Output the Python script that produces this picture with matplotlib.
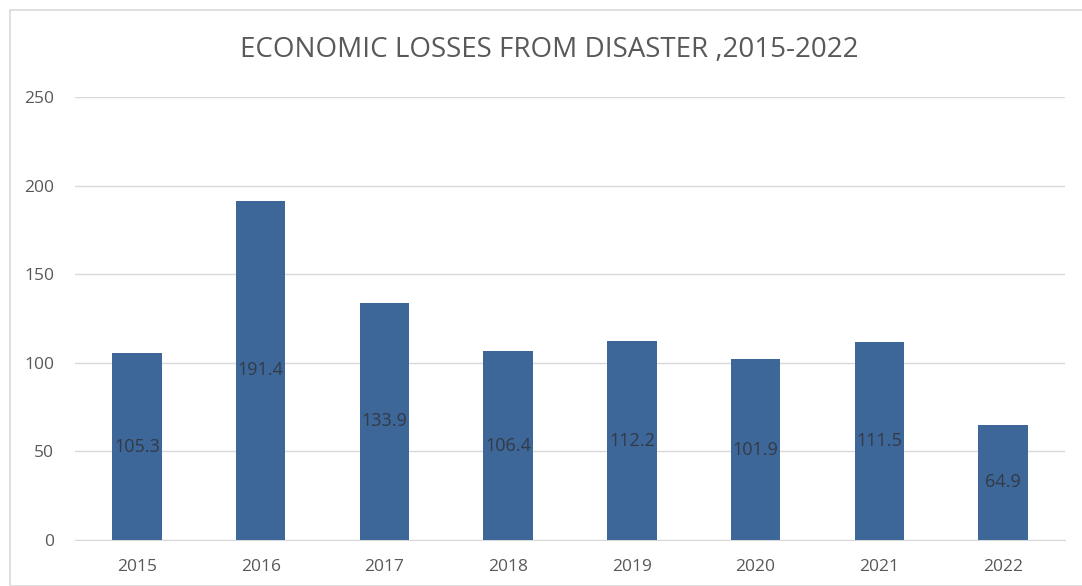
import matplotlib
matplotlib.use("Agg")
import matplotlib.pyplot as plt
from matplotlib.patches import Rectangle

years = ["2015", "2016", "2017", "2018", "2019", "2020", "2021", "2022"]
losses = [105.3, 191.4, 133.9, 106.4, 112.2, 101.9, 111.5, 64.9]

plt.rcParams['font.family'] = ['Open Sans', 'DejaVu Sans']

fig = plt.figure(figsize=(10.82, 5.86), dpi=100)
ax = fig.add_axes([75/1082, 1-540/586, 990/1082, 443/586])

# chart area border
fig.patches.append(Rectangle((10/1082, 0), 1.1, 1-10/586, transform=fig.transFigure,
                             fill=False, edgecolor='#d9d9d9', linewidth=1.2))

x = range(len(years))
bars = ax.bar(x, losses, width=0.4, color='#3d6699', zorder=3)
for b, v in zip(bars, losses):
    ax.text(b.get_x() + b.get_width()/2, v/2, str(v), ha='center', va='center',
            fontsize=13, color='#333a45', zorder=4)

ax.set_xlim(-0.5, 7.5)
ax.set_ylim(0, 250)
ax.set_yticks([0, 50, 100, 150, 200, 250])
ax.set_xticks(list(x))
ax.set_xticklabels(years)
ax.yaxis.grid(True, color='#d9d9d9', linewidth=1, zorder=0)
for s in ['top', 'right', 'left']:
    ax.spines[s].set_visible(False)
ax.spines['bottom'].set_color('#d9d9d9')
ax.tick_params(axis='both', length=0, colors='#595959', labelsize=12.5)
ax.tick_params(axis='x', pad=14)
ax.tick_params(axis='y', pad=15)

fig.text(549/1082, 1-50/586, "ECONOMIC LOSSES FROM DISASTER ,2015-2022", ha='center', va='center',
         fontsize=20, color='#595959')

fig.savefig("out.png", dpi=100)
